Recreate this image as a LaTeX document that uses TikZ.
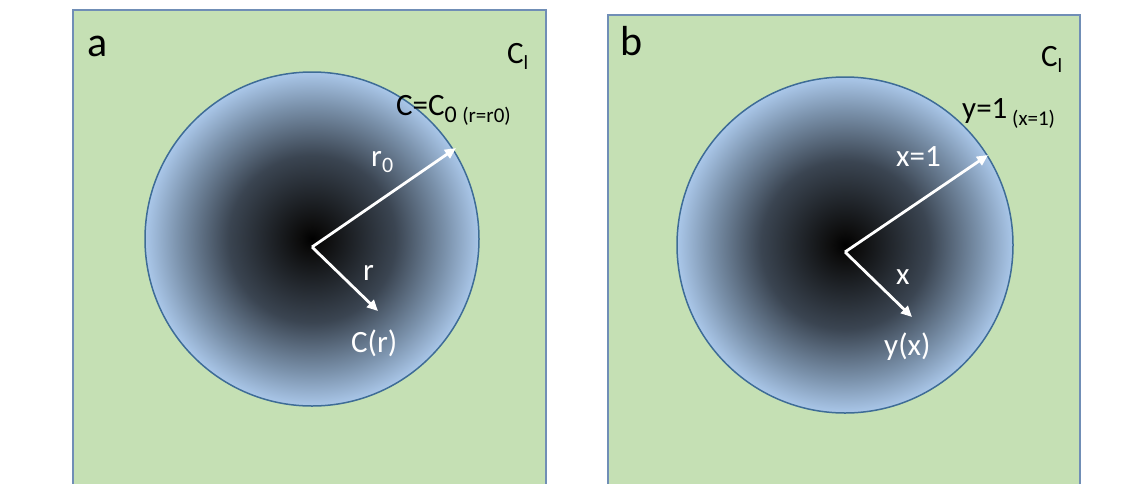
\documentclass[tikz,border=0pt]{standalone}
\usepackage{fontspec}
\setmainfont{Carlito}
\usetikzlibrary{arrows.meta}
\definecolor{paneGreen}{RGB}{197,224,180}
\definecolor{paneEdge}{RGB}{112,142,182}
\definecolor{rimBlue}{RGB}{62,108,150}
\definecolor{coreLight}{RGB}{170,199,233}
\pgfdeclareradialshading{dropshade}{\pgfpoint{0bp}{0bp}}{%
  color(0bp)=(black); color(2bp)=(black!95!white);
  rgb(12.5bp)=(0.23,0.27,0.32); rgb(20bp)=(0.48,0.57,0.67);
  color(25bp)=(coreLight); color(50bp)=(coreLight)}
\newcommand{\sizept}[1]{\fontsize{#1}{#1}\selectfont}
\tikzset{
    pane/.style={fill=paneGreen, draw=paneEdge, line width=1.5pt},
    drop/.style={circle, shading=dropshade, draw=rimBlue, line width=1.5pt, inner sep=0pt},
    ray/.style={-{Triangle[width=10pt,length=11pt]}, white, line width=2.8pt},
    tag/.style={inner sep=0pt, anchor=base west, font=\sizept{42}},
    lab/.style={inner sep=0pt, anchor=base west, font=\sizept{31}},
    inlab/.style={lab, text=white}
}
\begin{document}
\begin{tikzpicture}[x=1pt, y=-1pt]
    \clip (0,0) rectangle (1140,483);
    \fill[white] (0,0) rectangle (1140,483);
    % panel a
    \draw[pane] (73,10) rectangle (546,500);
    \node[drop, minimum size=334pt] (dropA) at (312,239) {};
    \coordinate (midA) at (312,247);
    \coordinate (rimA) at (456,148);
    \coordinate (tipA) at (378,311);
    \draw[ray] (midA) -- (rimA);
    \draw[ray] (midA) -- (tipA);
    \node[tag] (tagA) at (87,56) {a};
    \node[lab] (bulkA) at (507,63) {C\raisebox{-6pt}{\sizept{20}l}};
    \node[lab] (edgeA) at (396,115) {C=C\raisebox{-7pt}{\sizept{24}0 \sizept{21}(r=r0)}};
    \node[inlab] (radA) at (371,166) {r\raisebox{-6pt}{\sizept{22}0}};
    \node[inlab] (rA) at (363,280) {r};
    \node[inlab] (valA) at (351,352) {C(r)};
    % panel b
    \draw[pane] (608,15) rectangle (1080,500);
    \node[drop, minimum size=336pt] (dropB) at (845,245) {};
    \coordinate (midB) at (845,252);
    \coordinate (rimB) at (988,155);
    \coordinate (tipB) at (912,317);
    \draw[ray] (midB) -- (rimB);
    \draw[ray] (midB) -- (tipB);
    \node[tag] (tagB) at (620,55) {b};
    \node[lab] (bulkB) at (1041,66) {C\raisebox{-6pt}{\sizept{20}l}};
    \node[lab] (edgeB) at (962,118) {y=1\raisebox{-7pt}{\sizept{21}\ (x=1)}};
    \node[inlab] (radB) at (896,166) {x=1};
    \node[inlab] (xB) at (896,284) {x};
    \node[inlab] (valB) at (884,355) {y(x)};
\end{tikzpicture}
\end{document}
